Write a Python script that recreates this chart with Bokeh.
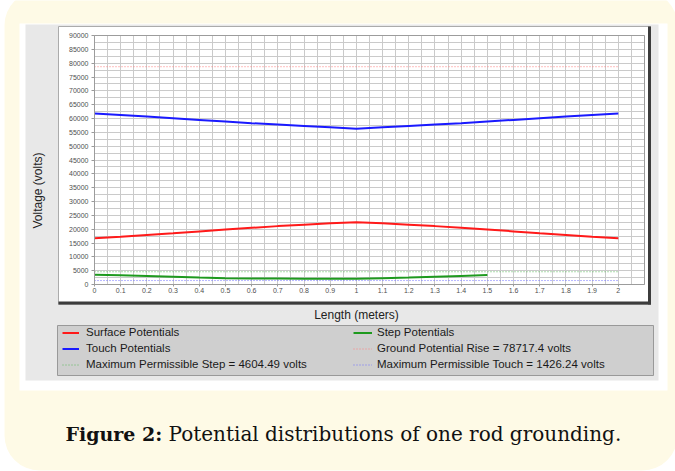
import math
from bokeh.plotting import figure
from bokeh.models import (Range1d, FixedTicker, NumeralTickFormatter, BoxAnnotation,
                          Label, Legend, LegendItem)
from bokeh.embed import file_html
from bokeh.resources import INLINE

# ---- data ----
x_len = [0.0, 0.1, 0.2, 0.3, 0.4, 0.5, 0.6, 0.7, 0.8, 0.9, 1.0,
         1.1, 1.2, 1.3, 1.4, 1.5, 1.6, 1.7, 1.8, 1.9, 2.0]
surface = [16750, 17300, 17900, 18500, 19200, 19900, 20500, 21100, 21600, 22100, 22500,
           22100, 21600, 21100, 20500, 19900, 19200, 18500, 17900, 17300, 16750]
touch = [61800, 61300, 60700, 60100, 59500, 58900, 58300, 57800, 57300, 56800, 56300,
         56800, 57300, 57800, 58300, 58900, 59500, 60100, 60700, 61300, 61800]
x_step = [0.0, 0.1, 0.2, 0.3, 0.4, 0.5, 0.6, 0.7, 0.8, 0.9, 1.0,
          1.1, 1.2, 1.3, 1.4, 1.5]
step = [3500, 3300, 3100, 2800, 2500, 2300, 2200, 2150, 2100, 2100, 2100,
        2300, 2500, 2800, 3100, 3400]
gpr = 78717.4
max_step = 4604.49
max_touch = 1426.24
x_limit = [0.0, 2.0]

y_ticks = list(range(0, 90001, 5000))
y_minor = list(range(0, 90001, 2500))
x_ticks = [0.0, 0.1, 0.2, 0.3, 0.4, 0.5, 0.6, 0.7, 0.8, 0.9, 1.0,
           1.1, 1.2, 1.3, 1.4, 1.5, 1.6, 1.7, 1.8, 1.9, 2.0]
x_minor = [round(i * 0.05, 2) for i in range(43)]
x_max, y_max = 2.1, 90000

labels_left = ["Surface Potentials", "Touch Potentials",
               "Maximum Permissible Step = 4604.49 volts"]
labels_right = ["Step Potentials", "Ground Potential Rise = 78717.4 volts",
                "Maximum Permissible Touch = 1426.24 volts"]
y_title = "Voltage (volts)"
x_title = "Length (meters)"
caption_bold = "Figure 2:"
caption_text = "Potential distributions of one rod grounding."

# ---- layout (pixels) ----
W, H = 675, 471
GX0, GX1 = 94, 644      # grid area left / right
GY0, GY1 = 35, 284      # grid area top / bottom
ppx = (GX1 - GX0) / x_max
ppy = (GY1 - GY0) / y_max
FONT = "Liberation Sans"

p = figure(width=W, height=H, output_backend="svg", toolbar_location=None,
           x_range=Range1d(-GX0 / ppx, x_max + (W - GX1) / ppx),
           y_range=Range1d(-(H - GY1) / ppy, y_max + GY0 / ppy),
           min_border=0, min_border_left=0, min_border_right=0,
           min_border_top=0, min_border_bottom=0,
           border_fill_color="white", background_fill_color="white",
           outline_line_color=None)


# ---- page decorations (canvas units, drawn beneath the grid) ----
def box(l, t, r, b, fill=None, line=None, lw=1, radius=0, level="image"):
    ba = BoxAnnotation(left=l, right=r, top=t, bottom=b,
                       left_units="canvas", right_units="canvas",
                       top_units="canvas", bottom_units="canvas",
                       fill_color=fill if fill else "white",
                       fill_alpha=1 if fill else 0,
                       line_color=line, line_width=lw, line_alpha=1,
                       border_radius=radius, level=level)
    p.add_layout(ba)
    return ba


box(4, -10, 677, 470, fill="#FEFAE6", radius=35)          # cream card
box(19, 23, 667, 390, fill="white")                       # white panel
box(25, 24, 658, 380, fill="#E8E8E8")                     # gray chart background
box(58, 26, 650, 304, fill="white", line="#ABABAB", lw=1)  # white chart box
box(647.5, 26, 650.5, 304, fill="#3C3C3C")
box(58, 301, 650.5, 304, fill="#3C3C3C")
box(57, 325, 653, 375, fill="#CFCFCF", line="#999999", lw=1)  # legend box

# ---- axes / grid ----
xt = FixedTicker(ticks=x_ticks, minor_ticks=x_minor)
yt = FixedTicker(ticks=y_ticks, minor_ticks=y_minor)
p.xaxis.ticker = xt
p.yaxis.ticker = yt
p.xgrid.ticker = xt
p.ygrid.ticker = yt
p.xgrid.bounds = (0, x_max)
p.xgrid.cross_bounds = (0, y_max)
p.ygrid.bounds = (0, y_max)
p.ygrid.cross_bounds = (0, x_max)
for g in (p.xgrid, p.ygrid):
    g.grid_line_color = "#CACACA"
    g.minor_grid_line_color = "#CACACA"
    g.grid_line_width = 1
    g.minor_grid_line_width = 1

p.xaxis.formatter = NumeralTickFormatter(format="0.[0]")
p.yaxis.formatter = NumeralTickFormatter(format="0")
p.xaxis.fixed_location = 0
p.yaxis.fixed_location = 0
p.xaxis.bounds = (0, 2.0)
p.yaxis.bounds = (0, y_max)
for ax in (p.xaxis, p.yaxis):
    ax.axis_line_color = None
    ax.major_tick_in = 0
    ax.minor_tick_in = 0
    ax.minor_tick_out = 0
    ax.major_tick_line_color = "#9A9A9A"
    ax.major_label_text_font = FONT
    ax.major_label_text_font_size = "7px"
    ax.major_label_text_color = "#505050"
    ax.axis_label_text_font = FONT
    ax.axis_label_text_font_style = "normal"
    ax.axis_label_text_color = "#222222"
p.xaxis.major_tick_out = 2
p.xaxis.major_label_standoff = 1
p.yaxis.major_tick_out = 3
p.yaxis.major_label_standoff = 3
p.xaxis.axis_label = x_title
p.xaxis.axis_label_text_font_size = "12px"
p.xaxis.axis_label_standoff = 12

# grid-area outline
p.add_layout(BoxAnnotation(left=0, right=x_max, bottom=0, top=y_max,
                           fill_alpha=0, line_color="#9C9C9C", line_width=1, line_alpha=1))

# ---- series ----
r_surf = p.line(x_len, surface, line_color="#FF1A1A", line_width=2)
r_touch = p.line(x_len, touch, line_color="#1A1AFF", line_width=2)
r_step = p.line(x_step, step, line_color="#1E9A1E", line_width=2)
r_gpr = p.line(x_limit, [gpr, gpr], line_color="#FF7F7F", line_width=1, line_dash="1 2")
r_mstep = p.line(x_limit, [max_step, max_step], line_color="#5DB85D", line_width=1, line_dash="1 2")
r_mtouch = p.line(x_limit, [max_touch, max_touch], line_color="#6F6FFF", line_width=1, line_dash="1 2")

# y-axis title, centred as in the reference
p.add_layout(Label(x=37, y=190, x_units="canvas", y_units="canvas", text=y_title,
                   angle=math.pi / 2, text_align="center", text_baseline="middle",
                   text_font=FONT, text_font_size="12px", text_color="#222222"))


# ---- legends ----
def make_legend(labels, renderers, loc, gw, standoff):
    leg = Legend(items=[LegendItem(label=t, renderers=[r]) for t, r in zip(labels, renderers)],
                 location=loc, orientation="vertical",
                 background_fill_alpha=0, border_line_color=None,
                 padding=0, margin=0, spacing=1,
                 glyph_width=gw, glyph_height=15, label_height=15,
                 label_standoff=standoff,
                 label_text_font=FONT, label_text_font_size="11.5px",
                 label_text_color="#1A1A1A")
    p.add_layout(leg)
    return leg


make_legend(labels_left, [r_surf, r_touch, r_mstep], (62, H - 371.5), 17, 7)
make_legend(labels_right, [r_step, r_gpr, r_mtouch], (353, H - 371.5), 19, 5)

# ---- caption ----
p.add_layout(Label(x=65, y=433, x_units="canvas", y_units="canvas", text=caption_bold,
                   text_font="DejaVu Serif", text_font_style="bold", text_font_size="19px",
                   text_baseline="middle", text_color="#111111"))
p.add_layout(Label(x=168, y=433, x_units="canvas", y_units="canvas", text=caption_text,
                   text_font="DejaVu Serif", text_font_size="20px",
                   text_baseline="middle", text_color="#111111"))

open("out.html", "w").write(file_html(p, INLINE))
